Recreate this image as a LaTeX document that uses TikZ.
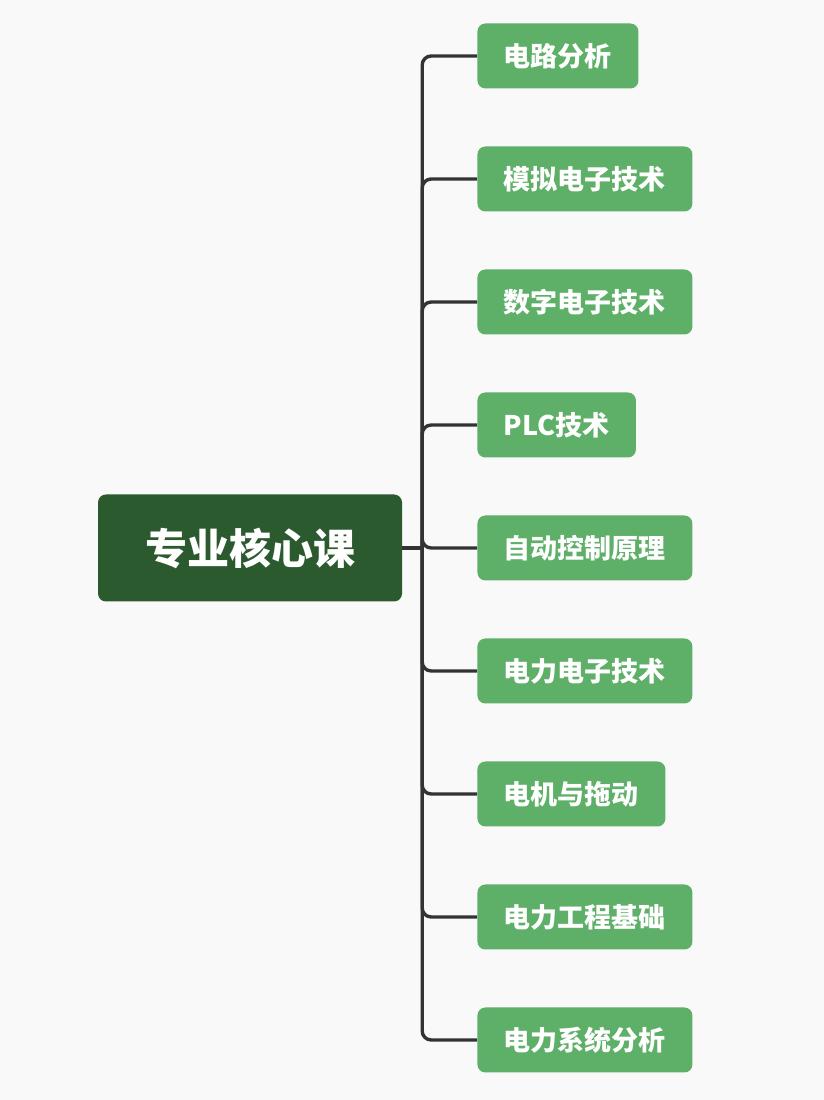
\documentclass[tikz,border=0pt]{standalone}
\usepackage{fontspec}
\setmainfont{Noto Sans CJK SC}
\usetikzlibrary{positioning}
\definecolor{bggray}{HTML}{F9F9F9}
\definecolor{coregreen}{HTML}{2B5A2F}
\definecolor{coursegreen}{HTML}{5EAF68}
\definecolor{linegray}{HTML}{333333}

\begin{document}
\begin{tikzpicture}[x=1pt,y=1pt,node distance=57.6pt,
  core/.style={fill=coregreen, text=white, rounded corners=8pt, minimum width=304pt, minimum height=107pt, font=\fontsize{42}{42}\selectfont\bfseries},
  course/.style={fill=coursegreen, text=white, rounded corners=8pt, minimum height=65pt, inner xsep=26.5pt, inner ysep=0pt, font=\fontsize{27}{27}\selectfont\bfseries},
  link/.style={draw=linegray, line width=3.4pt, rounded corners=9pt}]
\fill[bggray] (0,0) rectangle (824,1100);
\node[core] (core) at (250,552) {专业核心课};
\coordinate[right=20pt of core.east] (t);
\node[course, right=55pt of t] (c5) {自动控制原理};
\node[course, above=of c5.north west, anchor=south west] (c4) {PLC技术};
\node[course, above=of c4.north west, anchor=south west] (c3) {数字电子技术};
\node[course, above=of c3.north west, anchor=south west] (c2) {模拟电子技术};
\node[course, above=of c2.north west, anchor=south west] (c1) {电路分析};
\node[course, below=of c5.south west, anchor=north west] (c6) {电力电子技术};
\node[course, below=of c6.south west, anchor=north west] (c7) {电机与拖动};
\node[course, below=of c7.south west, anchor=north west] (c8) {电力工程基础};
\node[course, below=of c8.south west, anchor=north west] (c9) {电力系统分析};
\draw[link] (core.east) -- (t);
\draw[link] (t) |- (c1.west);
\draw[link] (t) |- (c2.west);
\draw[link] (t) |- (c3.west);
\draw[link] (t) |- (c4.west);
\draw[link] (t) |- (c5.west);
\draw[link] (t) |- (c6.west);
\draw[link] (t) |- (c7.west);
\draw[link] (t) |- (c8.west);
\draw[link] (t) |- (c9.west);
\end{tikzpicture}
\end{document}
